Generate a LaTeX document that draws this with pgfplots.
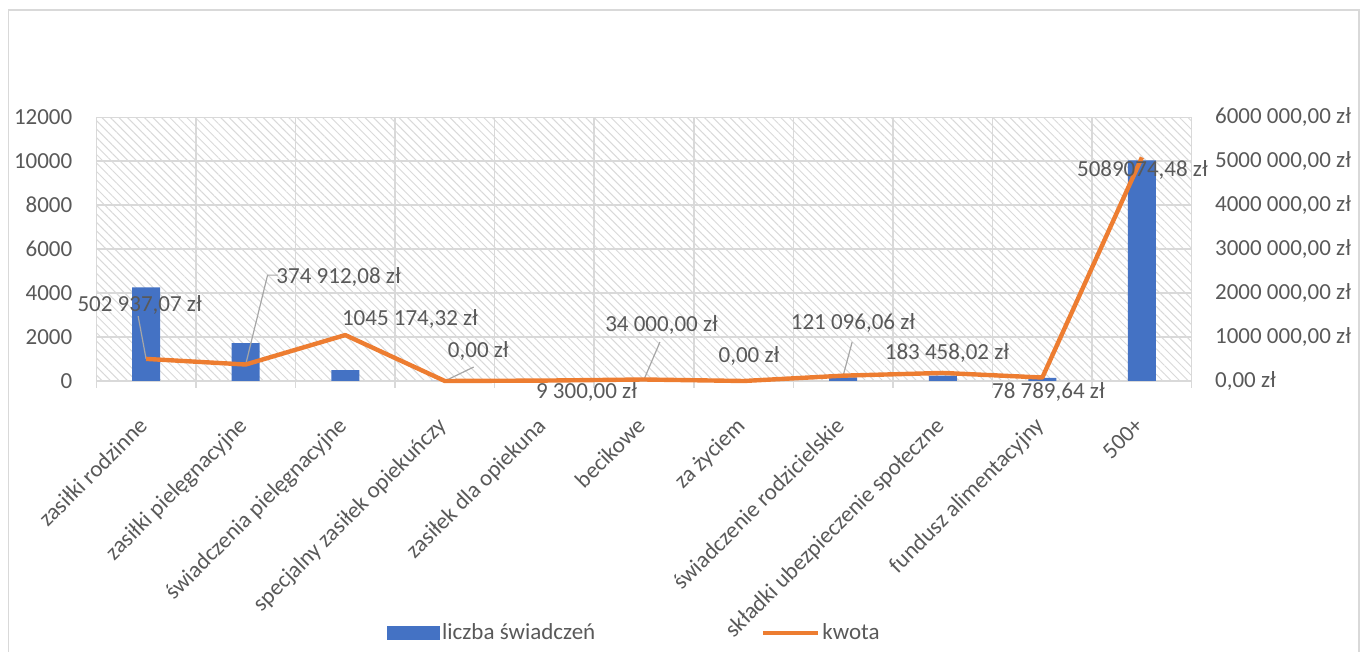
\documentclass[border=0pt]{standalone}
\usepackage{pgfplots}
\pgfplotsset{compat=1.18}
\usepackage{fontspec}
\setmainfont{Carlito}
\usetikzlibrary{patterns.meta}
\definecolor{barblue}{HTML}{4472C4}
\definecolor{lineorange}{HTML}{ED7D31}
\definecolor{txt}{HTML}{595959}
\definecolor{gridc}{HTML}{D9D9D9}
\definecolor{leader}{HTML}{A6A6A6}
\begin{document}
\begin{tikzpicture}[font=\fontsize{11.5}{13}\selectfont]
\useasboundingbox (0,0) rectangle (680pt,326pt);
\draw[gridc, line width=0.7pt] (4.3pt,-5pt) -- (4.3pt,321pt) -- (679.4pt,321pt) -- (679.4pt,-5pt);
\pgfplotsset{every axis/.append style={scale only axis, width=547.7pt, height=131.85pt,
  at={(48.15pt,135.5pt)}, anchor=south west, xmin=-0.5, xmax=10.5,
  scaled y ticks=false, /pgf/number format/assume math mode=true,
  /pgf/number format/1000 sep={}}}
\begin{axis}[
  ymin=0, ymax=12000, ytick={0,2000,...,12000},
  axis background/.style={pattern={Lines[angle=-45,distance=3pt,line width=0.5pt]}, pattern color=black!15},
  ymajorgrids, xminorgrids,
  major grid style={gridc, line width=0.75pt},
  minor grid style={gridc, line width=0.75pt},
  xtick={0,...,10},
  minor xtick={-0.5,0.5,...,10.5},
  xticklabels={zasiłki rodzinne, zasiłki pielęgnacyjne, świadczenia pielęgnacyjne, specjalny zasiłek opiekuńczy, zasiłek dla opiekuna, becikowe, za życiem, świadczenie rodzicielskie, składki ubezpieczenie społeczne, fundusz alimentacyjny, 500+},
  axis x line*=bottom, axis y line*=left,
  x axis line style={gridc, line width=0.75pt, -},
  y axis line style={draw=none},
  tick align=outside, major tick length=0pt, minor tick length=3.5pt,
  minor tick style={gridc, line width=0.75pt},
  xticklabel style={rotate=45, anchor=north east, inner sep=0pt, text height=7pt, text depth=2pt, text=txt, xshift=-15.3pt, yshift=-10pt},
  yticklabel style={anchor=east, inner sep=0pt, xshift=-11.8pt, text=txt},
  legend style={at={(0.4913,-0.9545)}, anchor=center, draw=none, fill=none, legend columns=2,
    /tikz/every even column/.append style={column sep=82pt}, text=txt,
    nodes={inner sep=1pt}},
]
\addplot[ybar, bar width=14pt, fill=barblue, draw=none, forget plot] coordinates {
(0,4260) (1,1720) (2,500) (3,0) (4,0) (5,0) (6,0) (7,160) (8,250) (9,140) (10,10045)};
\addlegendimage{legend image code/.code={\fill[barblue] (0pt,-3.25pt) rectangle (26pt,3.25pt);}}
\addlegendentry{liczba świadczeń}
\addlegendimage{legend image code/.code={\draw[lineorange, line width=2pt] (0pt,0pt) -- (27.5pt,0pt);}}
\addlegendentry{kwota}
\end{axis}
\begin{axis}[
  axis y line*=right, axis x line=none,
  ymin=0, ymax=6000000, ytick={0,1000000,2000000,3000000,4000000,5000000,6000000},
  yticklabels={{0,00 zł},{1000 000,00 zł},{2000 000,00 zł},{3000 000,00 zł},{4000 000,00 zł},{5000 000,00 zł},{6000 000,00 zł}},
  y axis line style={draw=none}, major tick length=0pt,
  yticklabel style={anchor=west, inner sep=0pt, xshift=11.5pt, text=txt},
  clip=false,
]
\draw[leader, line width=0.6pt] (axis cs:-0.08,1477000) -- (axis cs:0,502937);
\draw[leader, line width=0.6pt] (axis cs:1.325,2409000) -- (axis cs:1.22,2409000) -- (axis cs:1,374912);
\draw[leader, line width=0.6pt] (axis cs:3.29,318000) -- (axis cs:3,0);
\draw[leader, line width=0.6pt] (axis cs:5.16,886000) -- (axis cs:5,34000);
\draw[leader, line width=0.6pt] (axis cs:7.09,886000) -- (axis cs:7,121096);
\addplot[lineorange, line width=2.2pt, line join=round, mark=none] coordinates {
(0,502937.07) (1,374912.08) (2,1045174.32) (3,0) (4,9300) (5,34000) (6,0) (7,121096.06) (8,183458.02) (9,78789.64) (10,5089074.48)};
\begin{scope}[every node/.style={text=txt, inner sep=0pt}]
\node at (axis cs:-0.065,1727000) {502 937,07 zł};
\node at (axis cs:1.933,2363600) {374 912,08 zł};
\node at (axis cs:2.65,1409000) {1045 174,32 zł};
\node at (axis cs:3.336,681800) {0,00 zł};
\node at (axis cs:4.423,-250000) {9 300,00 zł};
\node at (axis cs:5.176,1272700) {34 000,00 zł};
\node at (axis cs:6.054,568200) {0,00 zł};
\node at (axis cs:7.098,1318200) {121 096,06 zł};
\node at (axis cs:8.042,636400) {183 458,02 zł};
\node at (axis cs:9.061,-250000) {78 789,64 zł};
\node at (axis cs:10.005,4795500) {5089074,48 zł};
\end{scope}
\end{axis}
\end{tikzpicture}
\end{document}
